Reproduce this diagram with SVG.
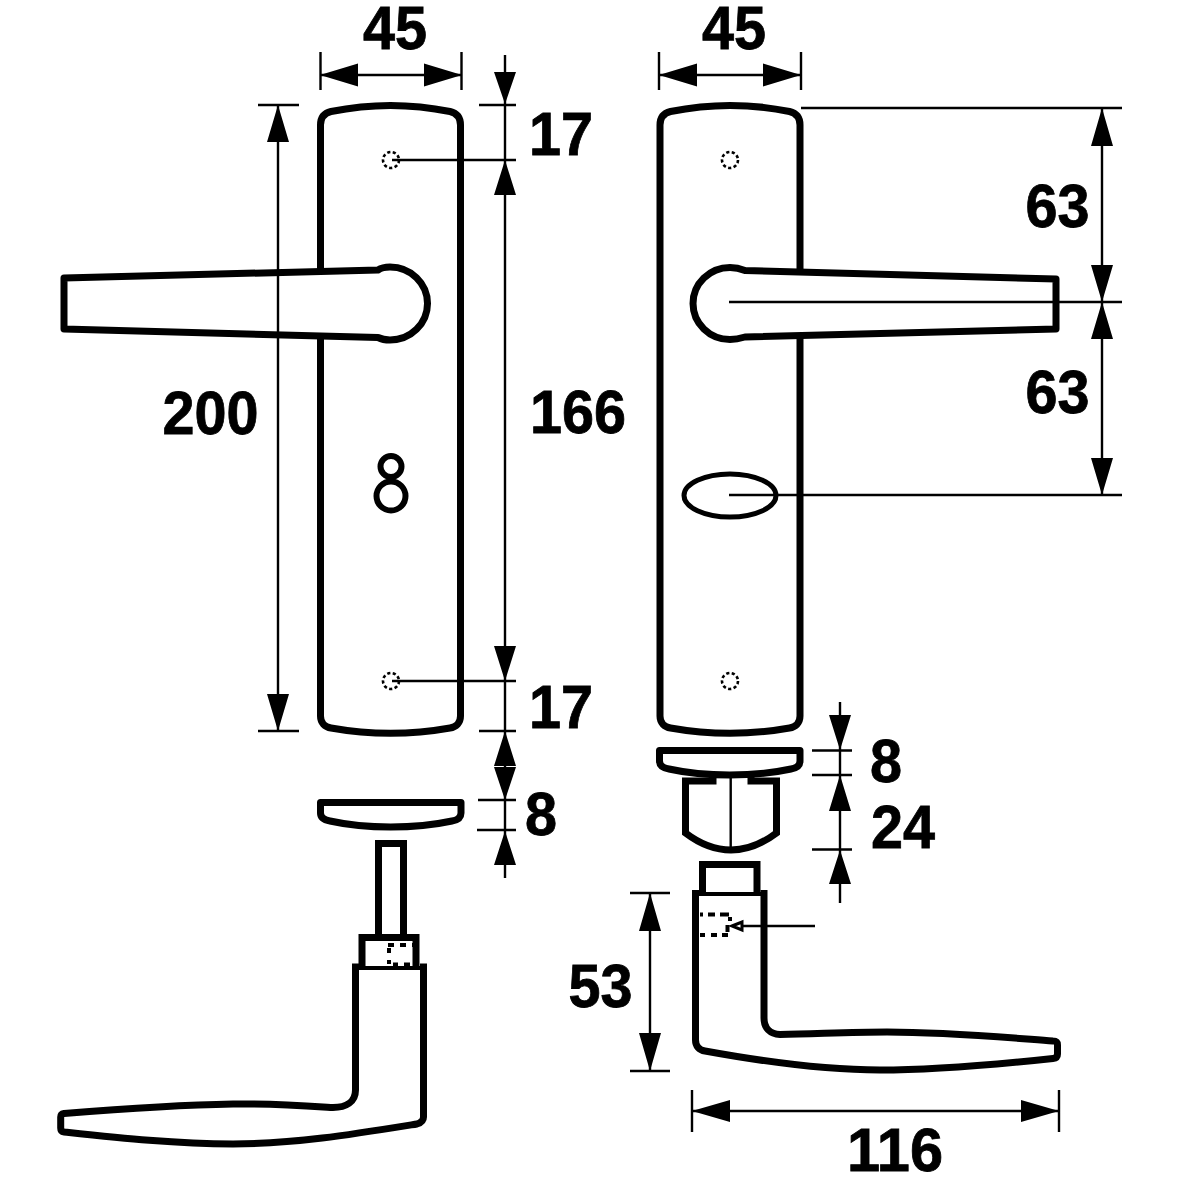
<svg xmlns="http://www.w3.org/2000/svg" width="1181" height="1181" viewBox="0 0 1181 1181">
<style>
.o{fill:#fff;stroke:#000;stroke-width:7;stroke-linejoin:round}
.n{fill:none;stroke:#000;stroke-width:7;stroke-linejoin:miter}
.r{fill:none;stroke:#000;stroke-width:7;stroke-linejoin:round}
.t{fill:none;stroke:#000;stroke-width:4}
.d{fill:none;stroke:#000;stroke-width:2.4}
.h{fill:none;stroke:#000;stroke-width:2.600;stroke-dasharray:3.200 2.400}
.q{fill:none;stroke:#000;stroke-width:4}
.a{fill:#000;stroke:none}
text{font-family:"Liberation Sans",Arial,sans-serif;font-weight:700;font-size:61px;fill:#000;stroke:#000;stroke-width:.8;text-anchor:middle}
</style>
<rect width="1181" height="1181" fill="#fff"/>
<g id="plate-left">
<path class="o" d="M320.500 125C320.500 117 325 113 331 111.500C370 103.500 411 103.500 450 111.500C456 113 460.500 117 460.500 125V716C460.500 723 456 727 450 728C411 735 370 735 331 728C325 727 320.500 723 320.500 716Z"/>
<circle class="h" cx="391" cy="160" r="8"/>
<circle class="h" cx="391" cy="681" r="8"/>
<circle cx="391" cy="466.500" r="10.500" fill="none" stroke="#000" stroke-width="6"/>
<circle cx="391" cy="496" r="14.500" fill="none" stroke="#000" stroke-width="6"/>
</g>
<g id="handle-left">
<path class="o" d="M64 278L378 270C381 268 385 267 390 267A37.500 36.500 0 0 1 390 340C385 340 381 339 378 337.500L64 329Z"/>
</g>
<g id="plate-right">
<path class="o" d="M660 125C660 117 664.500 113 670.500 111.500C709.500 103.500 750.500 103.500 789.500 111.500C795.500 113 800 117 800 125V716C800 723 795.500 727 789.500 728C750.500 735 709.500 735 670.500 728C664.500 727 660 723 660 716Z"/>
<circle class="h" cx="730" cy="160" r="8"/>
<circle class="h" cx="730" cy="681" r="8"/>
<ellipse cx="730" cy="495.500" rx="46" ry="21.500" fill="#fff" stroke="#000" stroke-width="5"/>
</g>
<g id="handle-right">
<path class="o" d="M1056 279L745 270.500C740 268.500 735 267.500 730 267.500A37 36 0 0 0 730 339.500C735 339.500 740 338.500 745 337L1056 329Z"/>
</g>
<g id="rose-left">
<path class="r" d="M320.500 802.500H461V813C461 817 458 820 452 821C415 829 366 829 330 821C324 820 320.500 817 320.500 813Z"/>
</g>
<g id="handle-side-left">
<path class="n" d="M378.500 937V843.500H403.500V937"/>
<path class="n" d="M362 966V937.500H416V966"/>
<path class="t" d="M355 968H424"/>
<path class="r" d="M355.500 963.500V1090C355.500 1102 346 1107.500 333 1107.500C300 1105.500 270 1103.500 233 1104C175 1105 120 1109 64 1113.500Q60.700 1114 60.700 1117V1128Q60.700 1131.700 64 1132C120 1138 175 1144 233 1144C295 1144 355 1134 417 1124Q423.500 1122 423.500 1117V963.500"/>
<path class="q" d="M388 945H394M400 945H406M412 945H414M389 948V953M389 960V964M393 964.500H398M404 964.500H410"/>
</g>
<g id="rose-right">
<path class="r" d="M659.500 750.500H800V761C800 765 797 768 791 769C754 777 705 777 669 769C663 768 659.500 765 659.500 761Z"/>
</g>
<g id="spindle-right">
<path class="n" d="M713 777V781H685.500V833C700 844 716 850 731 850C746 850 762 844 776.500 833V781H751V777"/>
<path class="d" d="M730.700 776V849"/>
</g>
<g id="handle-side-right">
<path class="n" d="M702.500 892V864.500H757V892"/>
<path class="t" d="M695 894H764"/>
<path class="r" d="M695.500 890V1040C695.500 1046 699 1050 705 1051C760 1061 820 1070 880 1070C935 1070 1000 1064 1053 1058.500Q1057.500 1058 1057.500 1054V1045Q1057.500 1041 1053 1041C1000 1037 945 1032 887 1032C850 1032 815 1034 780 1034.500C770 1034 764 1028 764 1018V890"/>
<path class="q" d="M700 914.500H703M708 914.500H715M720 914.500H729M730 917V921M727.500 925V932M700 935H705M711 935H717M722 935H728"/>
</g>
<g id="connectors">
<g class="d">
<path d="M320.500 52V90M461.500 52V90M320 75H462"/>
<path d="M659 52V90M801 52V90M659 75H801"/>
<path d="M258 105H299M258 731H299M278 105V731"/>
<path d="M479 105H516M392 160H516M392 681H516M479 731H516M505 55V878"/>
<path d="M478 800H516M477 830H516"/>
<path d="M801 108H1122M729 302H1122M729 495H1122M1102 108V495"/>
<path d="M812 750.500H852M812 775H852M812 849.500H852M840 702V903"/>
<path d="M742 926H815"/>
<path d="M630 893H670M630 1071H670M650 893V1071"/>
<path d="M692 1090V1132M1059 1090V1132M692 1111H1059"/>
</g>
<path d="M732 926L742 922V930Z" fill="#fff" stroke="#000" stroke-width="3"/>
<g class="a">
<path d="M320 75L358 63.500V86.500ZM462 75L424 63.500V86.500Z"/>
<path d="M659 75L697 63.500V86.500ZM801 75L763 63.500V86.500Z"/>
<path d="M278 105L267 142H289ZM278 731L267 694H289Z"/>
<path d="M505 104L494 72H516ZM505 160L494 195H516ZM505 681L494 646H516ZM505 731L494 766H516ZM505 800L494 767H516ZM505 831L494 865H516Z"/>
<path d="M1102 108L1091 146H1113ZM1102 302L1091 265H1113ZM1102 302L1091 339H1113ZM1102 495L1091 458H1113Z"/>
<path d="M840 750L829 715H851ZM840 775L829 811H851ZM840 850L829 884H851Z"/>
<path d="M650 893L639 931H661ZM650 1071L639 1033H661Z"/>
<path d="M692 1111L730 1100V1122ZM1059 1111L1021 1100V1122Z"/>
</g>
</g>
<g id="labels">
<text x="395" y="49" textLength="64" lengthAdjust="spacingAndGlyphs">45</text>
<text x="734" y="49" textLength="64" lengthAdjust="spacingAndGlyphs">45</text>
<text x="561" y="155" textLength="64" lengthAdjust="spacingAndGlyphs">17</text>
<text x="210.500" y="434" textLength="96" lengthAdjust="spacingAndGlyphs">200</text>
<text x="578" y="433" textLength="96" lengthAdjust="spacingAndGlyphs">166</text>
<text x="561" y="728" textLength="64" lengthAdjust="spacingAndGlyphs">17</text>
<text x="541" y="835" textLength="32" lengthAdjust="spacingAndGlyphs">8</text>
<text x="1057.500" y="227" textLength="64" lengthAdjust="spacingAndGlyphs">63</text>
<text x="1057.500" y="413" textLength="64" lengthAdjust="spacingAndGlyphs">63</text>
<text x="886" y="782" textLength="32" lengthAdjust="spacingAndGlyphs">8</text>
<text x="903" y="848" textLength="64" lengthAdjust="spacingAndGlyphs">24</text>
<text x="600.500" y="1007" textLength="64" lengthAdjust="spacingAndGlyphs">53</text>
<text x="895" y="1171" textLength="96" lengthAdjust="spacingAndGlyphs">116</text>
</g>
</svg>
